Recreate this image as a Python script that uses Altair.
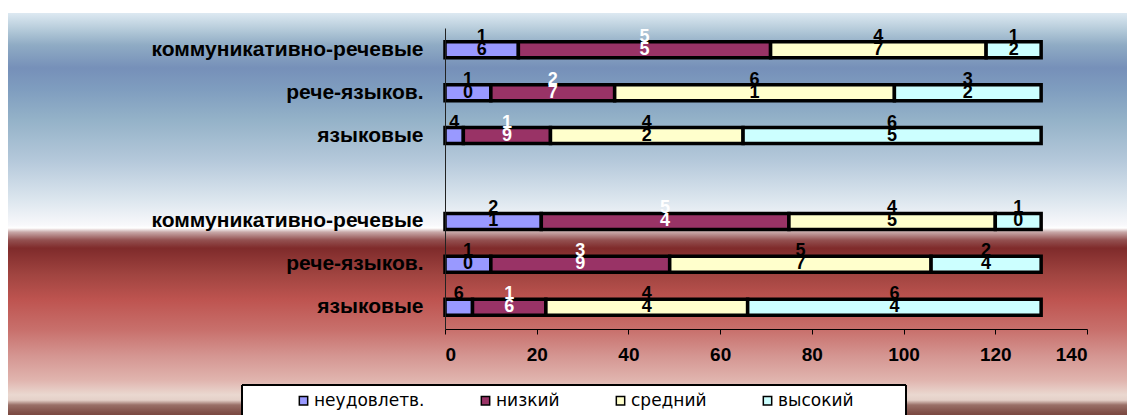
import altair as alt
import pandas as pd

# ---- data ----
row_ids = ["r1", "r2", "r3", "gap", "r4", "r5", "r6"]
row_labels = ["коммуникативно-речевые", "рече-языков.", "языковые", "",
              "коммуникативно-речевые", "рече-языков.", "языковые"]
series = ["неудовлетв.", "низкий", "средний", "высокий"]
colors = ["#9999ff", "#993366", "#ffffcc", "#ccffff"]
bar_rows = ["r1", "r2", "r3", "r4", "r5", "r6"]
neud = [16, 10, 4, 21, 10, 6]
nizk = [55, 27, 19, 54, 39, 16]
sred = [47, 61, 42, 45, 57, 44]
vys = [12, 32, 65, 10, 24, 64]
x_ticks = [0, 20, 40, 60, 80, 100, 120, 140]

records = []
for k, (name, vals) in enumerate(zip(series, [neud, nizk, sred, vys])):
    for r, v in zip(bar_rows, vals):
        records.append({"row": r, "series": name, "k": k, "value": v,
                        "label": "\n".join(str(v))})
df = pd.DataFrame(records)

W, H = 642, 301
OX, OY = 445, 28  # plot origin inside the 1127x415 page
PW, PH = 1127, 415

label_expr = " : ".join(
    f"datum.value == '{i}' ? '{l}'" for i, l in zip(row_ids, row_labels)
) + " : ''"

one = alt.Data(values=[{}])

page_bg = alt.Chart(one).mark_rect(fill="white").encode(
    x=alt.value(-OX), x2=alt.value(PW - OX), y=alt.value(-OY), y2=alt.value(PH - OY))

grad = alt.Gradient(
    gradient="linear", x1=0, y1=0, x2=0, y2=1,
    stops=[
        alt.GradientStop(color="#dde9f2", offset=0.0),
        alt.GradientStop(color="#b4cad9", offset=0.042),
        alt.GradientStop(color="#8fabc4", offset=0.08),
        alt.GradientStop(color="#7690b9", offset=0.137),
        alt.GradientStop(color="#7f9dbf", offset=0.19),
        alt.GradientStop(color="#94b2c8", offset=0.266),
        alt.GradientStop(color="#b4c8da", offset=0.366),
        alt.GradientStop(color="#dce6ee", offset=0.465),
        alt.GradientStop(color="#f8f8fb", offset=0.527),
        alt.GradientStop(color="#ffffff", offset=0.535),
        alt.GradientStop(color="#c8a8a8", offset=0.545),
        alt.GradientStop(color="#935050", offset=0.565),
        alt.GradientStop(color="#7f2b2b", offset=0.585),
        alt.GradientStop(color="#a04440", offset=0.65),
        alt.GradientStop(color="#be5450", offset=0.714),
        alt.GradientStop(color="#c8706c", offset=0.789),
        alt.GradientStop(color="#d49490", offset=0.85),
        alt.GradientStop(color="#e0b4ae", offset=0.913),
        alt.GradientStop(color="#ead8d0", offset=0.95),
        alt.GradientStop(color="#e4d0c8", offset=0.963),
        alt.GradientStop(color="#9a7068", offset=0.975),
        alt.GradientStop(color="#805048", offset=0.993),
        alt.GradientStop(color="#7a4840", offset=1.0),
    ])

grad_bg = alt.Chart(one).mark_rect(fill=grad).encode(
    x=alt.value(8 - OX), x2=alt.value(PW - OX), y=alt.value(13 - OY), y2=alt.value(PH - OY))

# legend box
LX1, LX2, LY1, LY2 = 242 - OX, 906 - OX, 385 - OY, PH - OY
leg_fill = alt.Chart(one).mark_rect(fill="white").encode(
    x=alt.value(LX1), x2=alt.value(LX2), y=alt.value(LY1), y2=alt.value(LY2))
leg_top = alt.Chart(one).mark_rule(color="black", strokeWidth=2).encode(
    x=alt.value(LX1), x2=alt.value(LX2), y=alt.value(LY1))
leg_left = alt.Chart(one).mark_rule(color="black", strokeWidth=2).encode(
    x=alt.value(LX1), y=alt.value(LY1), y2=alt.value(LY2))
leg_right = alt.Chart(one).mark_rule(color="black", strokeWidth=2).encode(
    x=alt.value(LX2), y=alt.value(LY1), y2=alt.value(LY2))

y_enc = alt.Y("row:N", scale=alt.Scale(domain=row_ids, paddingInner=0.58, paddingOuter=0.3),
              axis=alt.Axis(title=None, labelExpr=label_expr, ticks=False, zindex=1,
                            domainColor="#222222", domainWidth=1,
                            labelFont="Liberation Sans", labelFontSize=21,
                            labelFontWeight="bold", labelColor="black",
                            labelPadding=22, labelLimit=400))

bars = alt.Chart(df).mark_bar(stroke="black", strokeWidth=3.5, size=16).encode(
    x=alt.X("value:Q", stack="zero",
            scale=alt.Scale(domain=[0, 140], nice=False),
            axis=alt.Axis(title=None, values=x_ticks, grid=False, tickSize=5, zindex=1,
                          tickColor="black", domainColor="black",
                          labelFont="Liberation Sans", labelFontSize=19,
                          labelFontWeight="bold", labelColor="black",
                          labelPadding=11)),
    y=y_enc,
    color=alt.Color("series:N", scale=alt.Scale(domain=series, range=colors),
                    legend=alt.Legend(title=None, orient="none", direction="horizontal",
                                      legendX=297 - OX - 2, legendY=392 - OY,
                                      symbolType="square", symbolSize=70,
                                      symbolStrokeColor="black", symbolStrokeWidth=1.5,
                                      symbolOpacity=1,
                                      labelFont="DejaVu Sans", labelFontSize=17,
                                      labelColor="black", labelOffset=2,
                                      columnPadding=52, padding=0)),
    order=alt.Order("k:Q"),
)

texts = alt.Chart(df).transform_stack(
    stack="value", as_=["x0", "x1"], groupby=["row"], sort=[alt.SortField("k")]
).transform_calculate(mid="(datum.x0 + datum.x1) / 2").mark_text(
    font="Liberation Sans", fontSize=18, fontWeight="bold", lineBreak="\n",
    lineHeight=13, baseline="middle", dy=-13
).encode(
    x=alt.X("mid:Q"),
    y=alt.Y("row:N"),
    text="label:N",
    color=alt.condition(alt.datum.series == "низкий", alt.value("white"), alt.value("black")),
)

chart = alt.layer(page_bg, grad_bg, leg_fill, leg_top, leg_left, leg_right, bars, texts).properties(
    width=W, height=H, padding=0
).configure_view(stroke=None).configure(background="white")

chart.save("out.html", embed_options={"renderer": "svg", "actions": False})
